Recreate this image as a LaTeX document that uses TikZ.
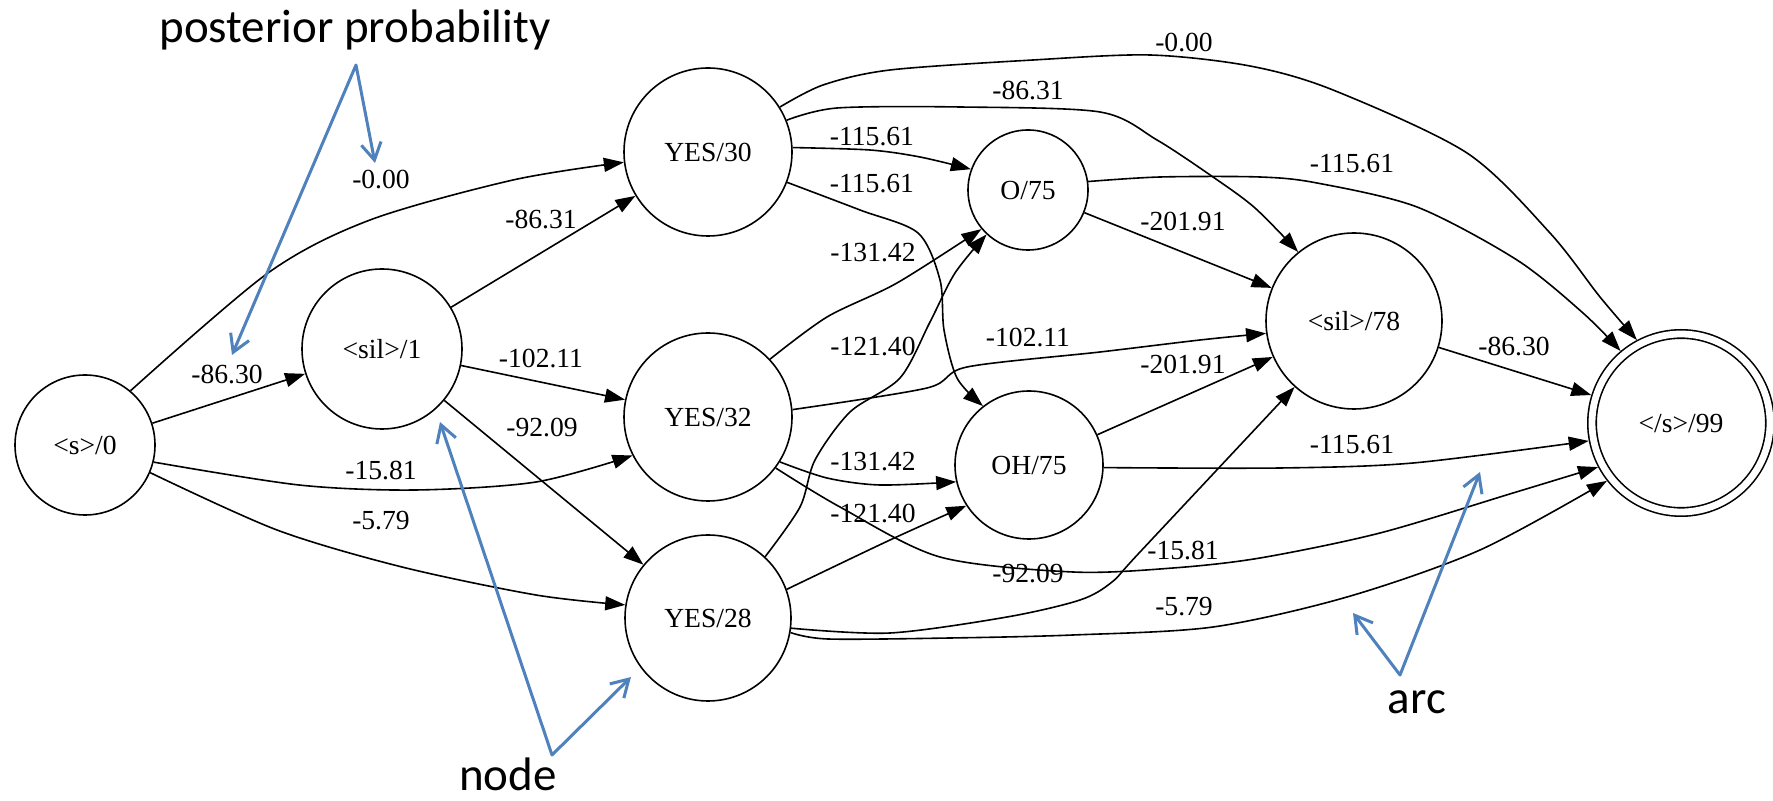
\documentclass[tikz,border=0pt]{standalone}
\usepackage{fontspec}
\setmainfont{Liberation Serif}
\newfontfamily\annfont{Carlito}
\usetikzlibrary{arrows.meta}
\definecolor{callout}{RGB}{79,129,189}

\begin{document}
\begin{tikzpicture}[x=0.5pt,y=-0.5pt,
  state/.style={circle,draw,line width=0.8pt,inner sep=0pt,text depth=0pt,
    font=\fontsize{13.8pt}{16pt}\selectfont},
  final/.style={state,double,double distance=3.4pt,outer sep=2.5pt},
  edge/.style={line width=0.8pt,-{Triangle[length=10pt,width=7pt]}},
  lbl/.style={font=\fontsize{13.8pt}{16pt}\selectfont,inner sep=0pt},
  callout/.style={draw=callout,line width=1.5pt,line join=round,
    {Straight Barb[length=8.5pt,width=10pt]}-{Straight Barb[length=8.5pt,width=10pt]}},
  ann/.style={font=\annfont\fontsize{23.5pt}{28pt}\selectfont,inner sep=0pt,anchor=base}]

\useasboundingbox (0,0) rectangle (1773,801);

% lattice states
\node[state,minimum size=70pt] (s0)   at (85,445)   {<s>/0};
\node[state,minimum size=80pt] (sil1) at (382,349)  {<sil>/1};
\node[state,minimum size=84pt] (yes30) at (708,152) {YES/30};
\node[state,minimum size=84pt] (yes32) at (708,417) {YES/32};
\node[state,minimum size=83pt] (yes28) at (708,618) {YES/28};
\node[state,minimum size=60pt] (o75)  at (1028,190) {O/75};
\node[state,minimum size=74pt] (oh75) at (1029,465) {OH/75};
\node[state,minimum size=88pt] (sil78) at (1354,321) {<sil>/78};
\node[final,minimum size=89pt] (end)  at (1681,423) {</s>/99};

% arcs leaving <s>/0
\draw[edge] plot[smooth] coordinates {(s0.50) (268,273) (370,220) (513,180) (yes30.187)}
  node[lbl] at (381,180) {-0.00};
\draw[edge] (s0) -- (sil1) node[lbl] at (227,375) {-86.30};
\draw[edge] plot[smooth] coordinates {(s0.-14) (299,485) (415,490) (536,482) (yes32.207)}
  node[lbl] at (381,471) {-15.81};
\draw[edge] plot[smooth] coordinates {(s0.-23) (277,530) (402,567) (536,595) (yes28.171)}
  node[lbl] at (381,521) {-5.79};

% arcs leaving <sil>/1
\draw[edge] (sil1) -- (yes30) node[lbl] at (541,220) {-86.31};
\draw[edge] (sil1) -- (yes32) node[lbl] at (541,359) {-102.11};
\draw[edge] (sil1) -- (yes28) node[lbl] at (542,428) {-92.09};

% arcs leaving YES/30
\draw[edge] plot[smooth] coordinates {(yes30.32) (823,85) (890,70) (1033,60) (1150,55)
  (1250,66) (1333,90) (1467,153) (1550,233) (1600,297) (end.118)}
  node[lbl] at (1184,43) {-0.00};
\draw[edge] plot[smooth] coordinates {(yes30.22) (837,108) (960,107) (1100,112) (1157,140)
  (1213,177) (1255,208) (sil78.129)}
  node[lbl] at (1028,91) {-86.31};
\draw[edge] plot[smooth] coordinates {(yes30.3) (870,150) (920,157) (o75.160)}
  node[lbl] at (872,137) {-115.61};
\draw[edge] plot[smooth] coordinates {(yes30.-21) (860,210) (918,233) (940,280) (944,330)
  (957,378) (oh75.128)}
  node[lbl] at (872,184) {-115.61};

% arcs leaving YES/32
\draw[edge] plot[smooth] coordinates {(yes32.43) (827,317) (897,283) (o75.220)}
  node[lbl] at (873,253) {-131.42};
\draw[edge] plot[smooth] coordinates {(yes32.5) (927,388) (967,367) (1100,352) (1200,340)
  (sil78.188)}
  node[lbl] at (1028,338) {-102.11};
\draw[edge] plot[smooth] coordinates {(yes32.-32) (827,478) (880,485) (oh75.193)}
  node[lbl] at (873,462) {-131.42};
\draw[edge] plot[smooth] coordinates {(yes32.-37) (840,507) (940,557) (1073,572) (1173,568)
  (1260,558) (1380,533) (1513,493) (end.208)}
  node[lbl] at (1183,551) {-15.81};

% arcs leaving YES/28
\draw[edge] plot[smooth] coordinates {(yes28.47) (800,507) (815,460) (850,412) (900,378)
  (930,322) (955,273) (o75.227)}
  node[lbl] at (873,347) {-121.40};
\draw[edge] plot[smooth] coordinates {(yes28.20) (890,540) (oh75.213)}
  node[lbl] at (873,514) {-121.40};
\draw[edge] plot[smooth] coordinates {(yes28.-7) (890,633) (1007,617) (1080,600) (1112,582)
  (1140,552) (sil78.228)}
  node[lbl] at (1028,574) {-92.09};
\draw[edge] plot[smooth] coordinates {(yes28.-10) (828,639) (950,638) (1073,635) (1213,627)
  (1347,597) (1480,550) (end.218)}
  node[lbl] at (1184,607) {-5.79};

% arcs leaving O/75 and OH/75
\draw[edge] (o75) -- (sil78) node[lbl] at (1183,222) {-201.91};
\draw[edge] plot[smooth] coordinates {(o75.8) (1160,177) (1260,177) (1317,183) (1417,207)
  (1517,260) (1583,313) (end.130)}
  node[lbl] at (1352,164) {-115.61};
\draw[edge] (oh75) -- (sil78) node[lbl] at (1183,365) {-201.91};
\draw[edge] plot[smooth] coordinates {(oh75.-2) (1280,468) (1413,463) (end.191)}
  node[lbl] at (1352,445) {-115.61};

% arc leaving <sil>/78
\draw[edge] (sil78) -- (end) node[lbl] at (1514,347) {-86.30};

% annotations
\node[ann] (pp) at (355,43) {posterior probability};
\node[ann] (nodetxt) at (508,791) {node};
\node[ann] (arctxt) at (1417,713) {arc};

\coordinate (ppapex) at (356,65);
\coordinate (pptipa) at (232,355);
\coordinate (pptipb) at (375,163);
\draw[callout] (pptipa) -- (ppapex) -- (pptipb);

\coordinate (ndapex) at (552,755);
\coordinate (ndtipa) at (440,422);
\coordinate (ndtipb) at (631,677);
\draw[callout] (ndtipa) -- (ndapex) -- (ndtipb);

\coordinate (arcapex) at (1400,675);
\coordinate (arctipa) at (1480,472);
\coordinate (arctipb) at (1353,613);
\draw[callout] (arctipa) -- (arcapex) -- (arctipb);

\end{tikzpicture}
\end{document}
